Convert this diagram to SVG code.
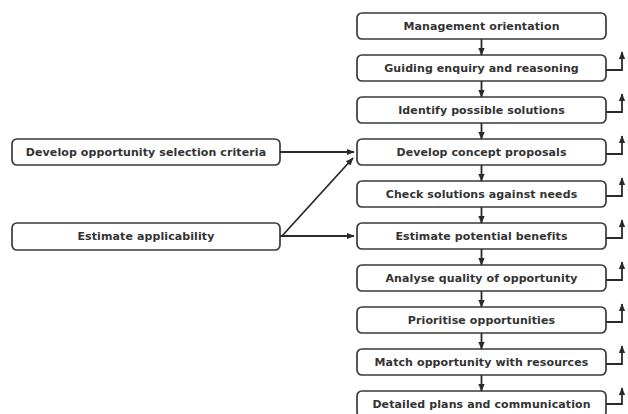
<svg xmlns="http://www.w3.org/2000/svg" width="628" height="414" viewBox="0 0 628 414">
  <defs>
    <style>
      .box { fill: #ffffff; stroke: #3a3a3a; stroke-width: 1.7; }
      .lbl { font-family: "DejaVu Sans", Verdana, sans-serif; font-weight: bold; font-size: 11px; fill: #333333; text-anchor: middle; letter-spacing: 0.1px; }
      .ln { fill: none; stroke: #2a2a2a; stroke-width: 1.8; }
    </style>
    <marker id="arr" viewBox="0 0 10 10" refX="9" refY="5" markerWidth="8" markerHeight="8" orient="auto" markerUnits="userSpaceOnUse">
      <path d="M0,1 L10,5 L0,9 Z" fill="#2a2a2a"/>
    </marker>
  </defs>
  <rect width="628" height="414" fill="#ffffff"/>

  <!-- main process column -->
  <g id="n1"><rect class="box" x="357" y="13" width="249" height="26" rx="5"/><text class="lbl" x="481.5" y="29.5">Management orientation</text></g>
  <g id="n2"><rect class="box" x="357" y="55" width="249" height="26" rx="5"/><text class="lbl" x="481.5" y="71.5">Guiding enquiry and reasoning</text></g>
  <g id="n3"><rect class="box" x="357" y="97" width="249" height="26" rx="5"/><text class="lbl" x="481.5" y="113.5">Identify possible solutions</text></g>
  <g id="n4"><rect class="box" x="357" y="139" width="249" height="26" rx="5"/><text class="lbl" x="481.5" y="155.5">Develop concept proposals</text></g>
  <g id="n5"><rect class="box" x="357" y="181" width="249" height="26" rx="5"/><text class="lbl" x="481.5" y="197.5">Check solutions against needs</text></g>
  <g id="n6"><rect class="box" x="357" y="223" width="249" height="26" rx="5"/><text class="lbl" x="481.5" y="239.5">Estimate potential benefits</text></g>
  <g id="n7"><rect class="box" x="357" y="265" width="249" height="26" rx="5"/><text class="lbl" x="481.5" y="281.5">Analyse quality of opportunity</text></g>
  <g id="n8"><rect class="box" x="357" y="307" width="249" height="26" rx="5"/><text class="lbl" x="481.5" y="323.5">Prioritise opportunities</text></g>
  <g id="n9"><rect class="box" x="357" y="349" width="249" height="26" rx="5"/><text class="lbl" x="481.5" y="365.5">Match opportunity with resources</text></g>
  <g id="n10"><rect class="box" x="357" y="391" width="249" height="26" rx="5"/><text class="lbl" x="481.5" y="407.5">Detailed plans and communication</text></g>

  <!-- inputs on the left -->
  <g id="criteria"><rect class="box" x="12" y="139" width="268" height="26" rx="5"/><text class="lbl" x="146" y="155.5">Develop opportunity selection criteria</text></g>
  <g id="applicability"><rect class="box" x="12" y="223" width="268" height="27" rx="5"/><text class="lbl" x="146" y="240">Estimate applicability</text></g>

  <g id="connectors">
    <!-- downward flow -->
    <line class="ln" x1="481.5" y1="39" x2="481.5" y2="55" marker-end="url(#arr)"/>
    <line class="ln" x1="481.5" y1="81" x2="481.5" y2="97" marker-end="url(#arr)"/>
    <line class="ln" x1="481.5" y1="123" x2="481.5" y2="139" marker-end="url(#arr)"/>
    <line class="ln" x1="481.5" y1="165" x2="481.5" y2="181" marker-end="url(#arr)"/>
    <line class="ln" x1="481.5" y1="207" x2="481.5" y2="223" marker-end="url(#arr)"/>
    <line class="ln" x1="481.5" y1="249" x2="481.5" y2="265" marker-end="url(#arr)"/>
    <line class="ln" x1="481.5" y1="291" x2="481.5" y2="307" marker-end="url(#arr)"/>
    <line class="ln" x1="481.5" y1="333" x2="481.5" y2="349" marker-end="url(#arr)"/>
    <line class="ln" x1="481.5" y1="375" x2="481.5" y2="391" marker-end="url(#arr)"/>

    <!-- feedback hooks on the right -->
    <path class="ln" d="M606,70 H622 V52" marker-end="url(#arr)"/>
    <path class="ln" d="M606,112 H622 V94" marker-end="url(#arr)"/>
    <path class="ln" d="M606,154 H622 V136" marker-end="url(#arr)"/>
    <path class="ln" d="M606,196 H622 V178" marker-end="url(#arr)"/>
    <path class="ln" d="M606,238 H622 V220" marker-end="url(#arr)"/>
    <path class="ln" d="M606,280 H622 V262" marker-end="url(#arr)"/>
    <path class="ln" d="M606,322 H622 V304" marker-end="url(#arr)"/>
    <path class="ln" d="M606,364 H622 V346" marker-end="url(#arr)"/>
    <path class="ln" d="M606,404 H622 V388" marker-end="url(#arr)"/>

    <!-- inputs -->
    <line class="ln" x1="280" y1="152" x2="354" y2="152" marker-end="url(#arr)"/>
    <line class="ln" x1="282" y1="236" x2="353" y2="158" marker-end="url(#arr)"/>
    <line class="ln" x1="280" y1="236" x2="354" y2="236" marker-end="url(#arr)"/>
  </g>
</svg>
